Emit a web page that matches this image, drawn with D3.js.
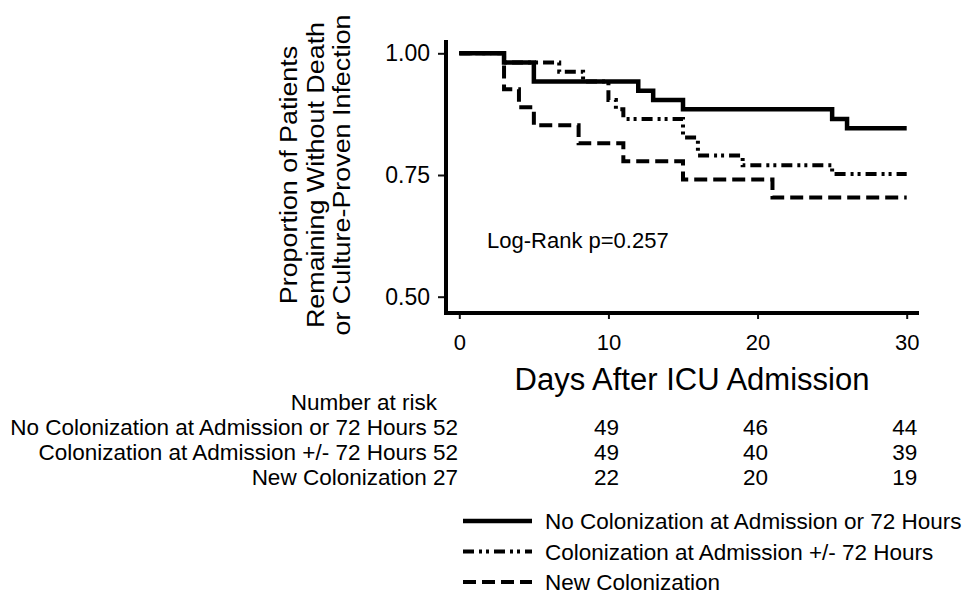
<!DOCTYPE html>
<html lang="en">
<head>
    <meta charset="UTF-8">
    <title>Kaplan-Meier</title>
    <script src="https://d3js.org/d3.v7.min.js"></script>
    <style>
        body { margin: 0; background: #fff; }
        text { font-family: "Liberation Sans", Arial, sans-serif; fill: #000; }
    </style>
</head>
<body>
<svg></svg>
<script>
    // survival steps: [day, proportion]
    let noColonization = [[0, 1], [3, 0.981], [5, 0.942], [12, 0.923], [13, 0.904], [15, 0.885],
        [25, 0.865], [26, 0.846], [30, 0.846]];
    let colonizationAdmission = [[0, 1], [3, 0.981], [6.7, 0.962], [8.3, 0.942], [10, 0.904],
        [10.5, 0.885], [11, 0.865], [15, 0.827], [16, 0.79], [19, 0.77], [25, 0.752], [30, 0.752]];
    let newColonization = [[0, 1], [3, 0.926], [4, 0.889], [5, 0.852], [8, 0.815], [11, 0.778],
        [15, 0.741], [21, 0.704], [30, 0.704]];

    let seriesNames = ["No Colonization at Admission or 72 Hours",
        "Colonization at Admission +/- 72 Hours",
        "New Colonization"];
    let seriesData = [noColonization, colonizationAdmission, newColonization];
    let seriesDash = [null, "11,5,3,4,3,5", "13,6"];

    let xTicks = [0, 10, 20, 30];
    let yTicks = [0.5, 0.75, 1.0];

    let riskDays = [10, 20, 30];
    let riskStart = [52, 52, 27];
    let riskCounts = [[49, 46, 44], [49, 40, 39], [22, 20, 19]];

    let width = 968, height = 594;
    let svg = d3.select("svg").attr("width", width).attr("height", height);

    let x = d3.scaleLinear().domain([0, 30]).range([459.3, 906.7]);
    let y = d3.scaleLinear().domain([0.5, 1]).range([296.7, 53.3]);

    let axisX = 446, axisY = 313;

    // y axis
    let yAxis = d3.axisLeft(y).tickValues(yTicks).tickFormat(d3.format(".2f"))
        .tickSize(8).tickPadding(8);
    let gy = svg.append("g").attr("transform", `translate(${axisX},0)`).call(yAxis);
    gy.select(".domain").remove();
    gy.selectAll(".tick line").attr("stroke", "#111").attr("stroke-width", 2);
    gy.selectAll(".tick text").style("font-size", "23px").attr("fill", "#000");

    // x axis
    let xAxis = d3.axisBottom(x).tickValues(xTicks).tickFormat(d3.format("d"))
        .tickSize(6).tickPadding(15);
    let gx = svg.append("g").attr("transform", `translate(0,${axisY})`).call(xAxis);
    gx.select(".domain").remove();
    gx.selectAll(".tick line").attr("stroke", "#111").attr("stroke-width", 2);
    gx.selectAll(".tick text").style("font-size", "22px").attr("fill", "#000");

    // thick axis lines
    svg.append("line").attr("x1", axisX).attr("x2", axisX).attr("y1", 40).attr("y2", axisY + 1.5)
        .attr("stroke", "#000").attr("stroke-width", 4);
    svg.append("line").attr("x1", axisX - 2).attr("x2", 919).attr("y1", axisY).attr("y2", axisY)
        .attr("stroke", "#000").attr("stroke-width", 4);

    // curves, dashed ones first so the solid sits on top
    let line = d3.line().x(d => x(d[0])).y(d => y(d[1])).curve(d3.curveStepAfter);
    [2, 1, 0].forEach(function (i) {
        svg.append("path")
            .attr("d", line(seriesData[i]))
            .attr("fill", "none")
            .attr("stroke", "#000")
            .attr("stroke-width", i === 0 ? 4.5 : 4)
            .attr("stroke-dasharray", seriesDash[i]);
    });

    svg.append("text").attr("x", 487).attr("y", 248).style("font-size", "22px")
        .text("Log-Rank p=0.257");

    // y label, three rotated lines
    let yLabel = ["Proportion of Patients", "Remaining Without Death", "or Culture-Proven Infection"];
    svg.selectAll(".ylab")
        .data(yLabel)
        .join("text")
        .attr("class", "ylab")
        .attr("text-anchor", "middle")
        .attr("transform", (d, i) => `translate(${297 + i * 26.5},175) rotate(-90) scale(1.12,1)`)
        .style("font-size", "24px")
        .text(d => d);

    svg.append("text").attr("x", 692).attr("y", 390).attr("text-anchor", "middle")
        .style("font-size", "31px").text("Days After ICU Admission");

    // number at risk table
    svg.append("text").attr("x", 437).attr("y", 410).attr("text-anchor", "end")
        .style("font-size", "22.5px").text("Number at risk");
    seriesNames.forEach(function (name, i) {
        let rowY = 435 + i * 25;
        svg.append("text").attr("x", 458).attr("y", rowY).attr("text-anchor", "end")
            .style("font-size", "22.5px").text(name + " " + riskStart[i]);
        svg.selectAll(".risk" + i)
            .data(riskCounts[i])
            .join("text")
            .attr("class", "risk" + i)
            .attr("x", (d, j) => x(riskDays[j]) - 2)
            .attr("y", rowY)
            .attr("text-anchor", "middle")
            .style("font-size", "22.5px")
            .text(d => d);
    });

    // legend
    seriesNames.forEach(function (name, i) {
        let ly = 521 + i * 30.5;
        svg.append("line").attr("x1", 463).attr("x2", 532).attr("y1", ly).attr("y2", ly)
            .attr("stroke", "#000").attr("stroke-width", i === 0 ? 4.5 : 4)
            .attr("stroke-dasharray", seriesDash[i]);
        svg.append("text").attr("x", 545).attr("y", ly + 8).style("font-size", "22.5px").text(name);
    });
</script>
</body>
</html>
